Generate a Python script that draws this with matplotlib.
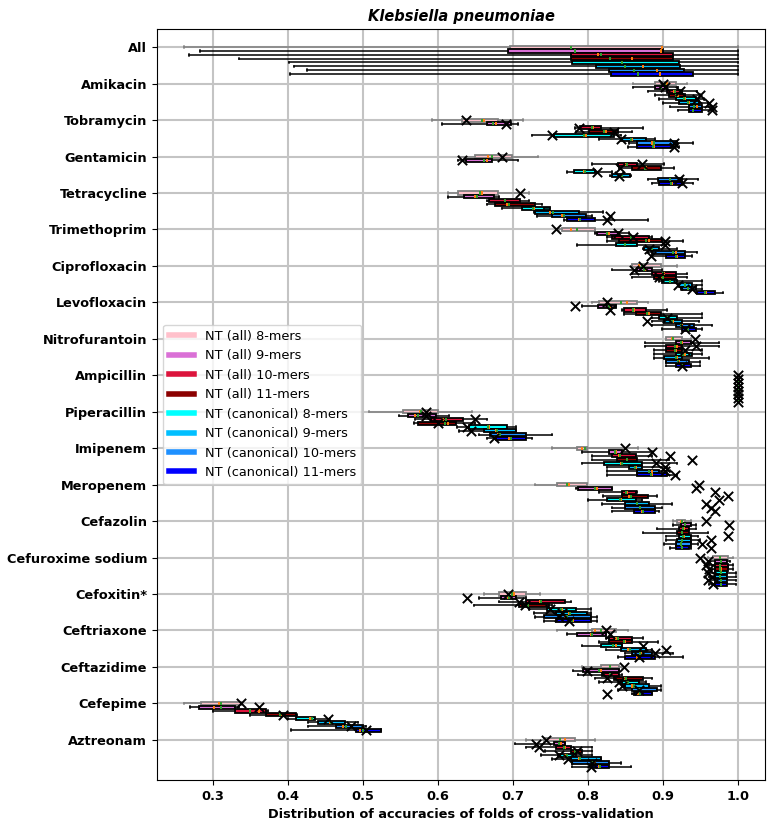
import numpy as np
import matplotlib.pyplot as plt
from matplotlib.lines import Line2D

nan = np.nan

drugs = ['All', 'Amikacin', 'Tobramycin', 'Gentamicin', 'Tetracycline', 'Trimethoprim',
         'Ciprofloxacin', 'Levofloxacin', 'Nitrofurantoin', 'Ampicillin', 'Piperacillin',
         'Imipenem', 'Meropenem', 'Cefazolin', 'Cefuroxime sodium', 'Cefoxitin*',
         'Ceftriaxone', 'Ceftazidime', 'Cefepime', 'Aztreonam']

series = ['NT (all) 8-mers', 'NT (all) 9-mers', 'NT (all) 10-mers', 'NT (all) 11-mers',
          'NT (canonical) 8-mers', 'NT (canonical) 9-mers', 'NT (canonical) 10-mers',
          'NT (canonical) 11-mers']
colors = ['pink', 'orchid', 'crimson', 'darkred', 'cyan', 'deepskyblue', 'dodgerblue', 'blue']

# whisker low
lo = [
    [0.261, 0.283, 0.268, 0.335, 0.401, 0.408, 0.425, 0.403],
    [0.86, 0.86, 0.88, 0.89, 0.895, 0.90, 0.91, 0.92],
    [0.592, 0.606, 0.783, 0.784, 0.726, 0.815, 0.855, 0.853],
    [0.628, 0.627, 0.806, 0.841, 0.772, 0.83, 0.88, 0.886],
    [0.614, 0.614, 0.666, 0.666, 0.686, 0.728, 0.732, 0.768],
    [0.762, 0.81, 0.826, 0.826, 0.786, 0.873, 0.88, 0.886],
    [0.859, 0.832, 0.859, 0.859, 0.895, 0.92, 0.924, 0.944],
    [0.806, 0.792, 0.846, 0.848, 0.886, 0.886, 0.886, 0.899],
    [0.904, 0.876, 0.876, 0.888, 0.888, 0.888, 0.904, 0.904],
    [1.0, 1.0, 1.0, 1.0, 1.0, 1.0, 1.0, 1.0],
    [0.508, 0.548, 0.569, 0.568, 0.626, 0.628, 0.655, 0.666],
    [0.752, 0.792, 0.806, 0.806, 0.792, 0.826, 0.826, 0.826],
    [0.73, 0.784, 0.815, 0.82, 0.80, 0.819, 0.832, 0.832],
    [0.913, 0.913, 0.892, 0.873, 0.904, 0.904, 0.902, 0.91],
    [0.96, 0.962, 0.962, 0.962, 0.962, 0.962, 0.962, 0.962],
    [0.661, 0.655, 0.681, 0.648, 0.721, 0.728, 0.73, 0.742],
    [0.759, 0.772, 0.824, 0.815, 0.792, 0.824, 0.85, 0.84],
    [0.792, 0.78, 0.787, 0.81, 0.815, 0.846, 0.84, 0.859],
    [0.261, 0.269, 0.30, 0.349, 0.40, 0.427, 0.427, 0.404],
    [0.717, 0.703, 0.717, 0.743, 0.737, 0.752, 0.779, 0.779],
]

q1 = [
    [0.696, 0.693, 0.778, 0.778, 0.779, 0.811, 0.828, 0.831],
    [0.889, 0.89, 0.906, 0.908, 0.917, 0.921, 0.935, 0.935],
    [0.632, 0.666, 0.79, 0.801, 0.755, 0.844, 0.866, 0.866],
    [0.649, 0.637, 0.84, 0.859, 0.781, 0.832, 0.894, 0.895],
    [0.627, 0.635, 0.668, 0.676, 0.712, 0.73, 0.752, 0.772],
    [0.766, 0.812, 0.832, 0.841, 0.837, 0.875, 0.886, 0.904],
    [0.859, 0.866, 0.886, 0.888, 0.899, 0.921, 0.926, 0.946],
    [0.815, 0.814, 0.848, 0.864, 0.895, 0.901, 0.917, 0.926],
    [0.904, 0.917, 0.904, 0.904, 0.917, 0.901, 0.904, 0.917],
    [1.0, 1.0, 1.0, 1.0, 1.0, 1.0, 1.0, 1.0],
    [0.553, 0.56, 0.591, 0.573, 0.641, 0.661, 0.67, 0.678],
    [0.786, 0.828, 0.832, 0.839, 0.821, 0.855, 0.866, 0.866],
    [0.759, 0.787, 0.846, 0.846, 0.826, 0.85, 0.85, 0.861],
    [0.919, 0.924, 0.922, 0.919, 0.922, 0.919, 0.917, 0.917],
    [0.967, 0.969, 0.969, 0.969, 0.969, 0.969, 0.969, 0.969],
    [0.681, 0.684, 0.717, 0.708, 0.746, 0.757, 0.741, 0.757],
    [0.806, 0.786, 0.828, 0.828, 0.817, 0.844, 0.859, 0.85],
    [0.817, 0.793, 0.819, 0.835, 0.846, 0.85, 0.859, 0.861],
    [0.284, 0.282, 0.329, 0.371, 0.411, 0.44, 0.464, 0.491],
    [0.741, 0.755, 0.757, 0.777, 0.76, 0.777, 0.779, 0.804],
]

med = [
    [0.899, 0.898, 0.813, 0.859, 0.845, 0.873, 0.892, 0.896],
    [0.905, 0.898, 0.915, 0.92, 0.93, 0.935, 0.945, 0.94],
    [0.662, 0.677, 0.807, 0.824, 0.797, 0.859, 0.886, 0.888],
    [0.667, 0.666, 0.851, 0.877, 0.795, 0.846, 0.91, 0.912],
    [0.659, 0.65, 0.69, 0.692, 0.728, 0.75, 0.766, 0.788],
    [0.777, 0.828, 0.859, 0.881, 0.849, 0.886, 0.917, 0.919],
    [0.868, 0.877, 0.901, 0.899, 0.91, 0.93, 0.933, 0.957],
    [0.852, 0.83, 0.862, 0.881, 0.906, 0.913, 0.926, 0.934],
    [0.912, 0.926, 0.919, 0.917, 0.93, 0.919, 0.921, 0.926],
    [1.0, 1.0, 1.0, 1.0, 1.0, 1.0, 1.0, 1.0],
    [0.576, 0.57, 0.607, 0.613, 0.668, 0.677, 0.68, 0.695],
    [0.792, 0.837, 0.841, 0.852, 0.844, 0.864, 0.886, 0.886],
    [0.775, 0.812, 0.852, 0.855, 0.844, 0.866, 0.87, 0.872],
    [0.924, 0.93, 0.928, 0.926, 0.928, 0.926, 0.924, 0.926],
    [0.976, 0.978, 0.976, 0.977, 0.978, 0.976, 0.978, 0.977],
    [0.701, 0.694, 0.736, 0.717, 0.766, 0.775, 0.77, 0.78],
    [0.81, 0.804, 0.837, 0.85, 0.837, 0.853, 0.871, 0.866],
    [0.829, 0.817, 0.83, 0.85, 0.852, 0.859, 0.868, 0.867],
    [0.308, 0.302, 0.362, 0.391, 0.43, 0.456, 0.473, 0.496],
    [0.77, 0.764, 0.77, 0.784, 0.77, 0.788, 0.81, 0.815],
]

mean = [
    [0.778, 0.783, 0.817, 0.83, 0.846, 0.85, 0.861, 0.867],
    [0.903, 0.897, 0.916, 0.918, 0.928, 0.933, 0.942, 0.94],
    [0.659, 0.673, 0.806, 0.822, 0.795, 0.858, 0.888, 0.887],
    [0.672, 0.661, 0.852, 0.876, 0.796, 0.845, 0.909, 0.911],
    [0.656, 0.652, 0.69, 0.695, 0.727, 0.754, 0.768, 0.79],
    [0.786, 0.826, 0.857, 0.877, 0.849, 0.885, 0.913, 0.917],
    [0.872, 0.875, 0.9, 0.9, 0.909, 0.93, 0.934, 0.956],
    [0.844, 0.828, 0.86, 0.879, 0.905, 0.912, 0.924, 0.933],
    [0.913, 0.924, 0.916, 0.916, 0.927, 0.918, 0.92, 0.925],
    [1.0, 1.0, 1.0, 1.0, 1.0, 1.0, 1.0, 1.0],
    [0.578, 0.574, 0.611, 0.61, 0.667, 0.679, 0.683, 0.697],
    [0.796, 0.836, 0.843, 0.852, 0.846, 0.863, 0.882, 0.884],
    [0.772, 0.81, 0.851, 0.858, 0.843, 0.866, 0.869, 0.874],
    [0.925, 0.929, 0.927, 0.925, 0.927, 0.926, 0.924, 0.925],
    [0.976, 0.977, 0.976, 0.976, 0.977, 0.976, 0.977, 0.977],
    [0.699, 0.695, 0.738, 0.72, 0.764, 0.776, 0.772, 0.779],
    [0.817, 0.806, 0.84, 0.848, 0.834, 0.856, 0.87, 0.868],
    [0.83, 0.815, 0.829, 0.851, 0.854, 0.861, 0.87, 0.869],
    [0.311, 0.311, 0.349, 0.39, 0.432, 0.457, 0.478, 0.5],
    [0.763, 0.762, 0.768, 0.783, 0.772, 0.79, 0.806, 0.816],
]

q3 = [
    [0.899, 0.9, 0.913, 0.913, 0.921, 0.923, 0.928, 0.94],
    [0.918, 0.905, 0.926, 0.93, 0.944, 0.948, 0.952, 0.952],
    [0.68, 0.698, 0.818, 0.84, 0.835, 0.877, 0.919, 0.912],
    [0.699, 0.672, 0.866, 0.897, 0.81, 0.856, 0.926, 0.926],
    [0.68, 0.675, 0.71, 0.73, 0.75, 0.788, 0.797, 0.81],
    [0.809, 0.841, 0.881, 0.899, 0.866, 0.895, 0.93, 0.93],
    [0.898, 0.886, 0.918, 0.917, 0.919, 0.939, 0.944, 0.97],
    [0.866, 0.837, 0.877, 0.897, 0.919, 0.926, 0.941, 0.944],
    [0.926, 0.937, 0.926, 0.926, 0.939, 0.926, 0.935, 0.937],
    [1.0, 1.0, 1.0, 1.0, 1.0, 1.0, 1.0, 1.0],
    [0.6, 0.598, 0.633, 0.624, 0.692, 0.704, 0.718, 0.718],
    [0.799, 0.846, 0.864, 0.866, 0.872, 0.872, 0.895, 0.906],
    [0.799, 0.832, 0.864, 0.88, 0.864, 0.881, 0.89, 0.89],
    [0.93, 0.937, 0.935, 0.935, 0.937, 0.937, 0.937, 0.935],
    [0.987, 0.985, 0.987, 0.987, 0.985, 0.985, 0.985, 0.985],
    [0.717, 0.704, 0.77, 0.748, 0.784, 0.799, 0.804, 0.804],
    [0.837, 0.824, 0.859, 0.859, 0.846, 0.877, 0.886, 0.89],
    [0.841, 0.841, 0.841, 0.873, 0.868, 0.881, 0.892, 0.886],
    [0.338, 0.329, 0.371, 0.411, 0.436, 0.476, 0.5, 0.524],
    [0.783, 0.77, 0.777, 0.792, 0.784, 0.817, 0.828, 0.828],
]

# whisker high
hi = [
    [1.0, 1.0, 1.0, 1.0, 1.0, 1.0, 1.0, 1.0],
    [0.932, 0.92, 0.946, 0.95, 0.955, 0.96, 0.965, 0.965],
    [0.714, 0.707, 0.873, 0.859, 0.844, 0.89, 0.94, 0.921],
    [0.733, 0.707, 0.901, 0.915, 0.832, 0.857, 0.947, 0.94],
    [0.721, 0.681, 0.721, 0.739, 0.741, 0.82, 0.806, 0.88],
    [0.809, 0.855, 0.886, 0.927, 0.903, 0.919, 0.946, 0.939],
    [0.919, 0.899, 0.932, 0.932, 0.952, 0.952, 0.952, 0.98],
    [0.88, 0.837, 0.905, 0.952, 0.952, 0.948, 0.966, 0.952],
    [0.937, 0.975, 0.975, 0.952, 0.952, 0.962, 0.95, 0.95],
    [1.0, 1.0, 1.0, 1.0, 1.0, 1.0, 1.0, 1.0],
    [0.646, 0.615, 0.666, 0.65, 0.704, 0.704, 0.752, 0.726],
    [0.867, 0.886, 0.886, 0.908, 0.919, 0.906, 0.91, 0.919],
    [0.799, 0.832, 0.866, 0.892, 0.872, 0.912, 0.899, 0.895],
    [0.937, 0.944, 0.944, 0.96, 0.947, 0.95, 0.947, 0.937],
    [0.994, 0.99, 0.994, 0.994, 0.998, 0.998, 0.998, 0.998],
    [0.736, 0.717, 0.777, 0.752, 0.804, 0.804, 0.812, 0.812],
    [0.854, 0.824, 0.873, 0.894, 0.846, 0.886, 0.913, 0.927],
    [0.846, 0.841, 0.846, 0.886, 0.877, 0.897, 0.897, 0.886],
    [0.338, 0.335, 0.373, 0.412, 0.456, 0.493, 0.504, 0.524],
    [0.81, 0.77, 0.805, 0.805, 0.805, 0.817, 0.844, 0.858],
]

# accuracy on the held-out test set (x markers)
test = [
    [nan, nan, nan, nan, nan, nan, nan, nan],
    [0.90, 0.903, 0.923, 0.95, 0.945, 0.962, 0.965, 0.965],
    [0.637, 0.691, 0.788, 0.835, 0.752, 0.844, 0.915, 0.915],
    [0.686, 0.632, 0.872, 0.843, 0.812, 0.841, 0.921, 0.926],
    [0.71, nan, nan, nan, nan, nan, 0.83, 0.825],
    [0.758, 0.84, 0.86, 0.903, 0.903, 0.881, nan, 0.884],
    [0.873, 0.861, nan, 0.895, nan, 0.92, 0.939, nan],
    [0.825, 0.783, 0.83, nan, 0.906, 0.879, nan, 0.93],
    [0.943, nan, 0.944, 0.93, nan, nan, nan, 0.926],
    [1.0, 1.0, 1.0, 1.0, 1.0, 1.0, 1.0, 1.0],
    [0.584, 0.584, 0.65, 0.6, 0.639, 0.644, nan, 0.675],
    [0.849, 0.885, 0.91, 0.939, 0.891, 0.903, 0.903, 0.916],
    [0.948, 0.944, 0.969, 0.987, 0.975, 0.957, 0.964, 0.969],
    [0.957, 0.988, nan, nan, 0.987, 0.964, 0.952, 0.964],
    [0.949, 0.96, 0.958, 0.962, 0.96, 0.965, 0.96, 0.967],
    [0.694, 0.639, 0.708, 0.716, 0.75, 0.766, 0.761, 0.775],
    [0.824, 0.83, nan, nan, 0.873, 0.904, 0.889, 0.868],
    [0.848, 0.799, nan, 0.826, 0.841, 0.846, 0.868, 0.825],
    [0.338, 0.361, nan, 0.393, 0.453, nan, 0.484, 0.504],
    [0.744, 0.731, 0.735, 0.786, 0.761, 0.774, 0.806, 0.804],
]

fs = 9.3

fig, ax = plt.subplots(figsize=(7.79, 8.27), dpi=100)
fig.subplots_adjust(left=0.2015, right=0.982, top=0.965, bottom=0.057)

step = 0.105
for k in range(len(series)):
    stats = []
    for i in range(len(drugs)):
        stats.append(dict(whislo=lo[i][k], q1=q1[i][k], med=med[i][k], mean=mean[i][k],
                          q3=q3[i][k], whishi=hi[i][k], fliers=[]))
    pos = np.arange(len(drugs)) + k * step
    edge = '0.5' if k == 0 else 'black'
    ax.bxp(stats, positions=pos, widths=0.085, orientation='horizontal',
           patch_artist=True, showmeans=True, meanline=True, manage_ticks=False,
           boxprops=dict(facecolor=colors[k], edgecolor=edge, linewidth=1.3),
           whiskerprops=dict(color=edge, linewidth=1.1),
           capprops=dict(color=edge, linewidth=1.1),
           medianprops=dict(color='tab:orange', linewidth=1.4),
           meanprops=dict(color='tab:green', linestyle='-', linewidth=1.4))
    ax.scatter([t[k] for t in test], pos, marker='x', color='black', s=45,
               linewidths=1.4, zorder=5)

ax.set_yticks(np.arange(len(drugs)))
ax.set_yticklabels(drugs, fontweight='bold', fontsize=fs)
ax.set_ylim(20.1, -0.5)
ax.set_xlim(0.2253, 1.036)
ax.set_xticks([0.3, 0.4, 0.5, 0.6, 0.7, 0.8, 0.9, 1.0])
ax.set_xticklabels(['0.3', '0.4', '0.5', '0.6', '0.7', '0.8', '0.9', '1.0'],
                   fontweight='bold', fontsize=fs)
ax.grid(True, color='#c4c4c4', linewidth=1.5)
ax.set_axisbelow(True)

ax.set_title('Klebsiella pneumoniae', fontweight='bold', fontstyle='italic', fontsize=10.5)
ax.set_xlabel('Distribution of accuracies of folds of cross-validation',
              fontweight='bold', fontsize=fs)

handles = [Line2D([0], [0], color=c, linewidth=4) for c in colors]
ax.legend(handles, series, loc='center left', fontsize=fs)

fig.savefig('out.png', dpi=100)
